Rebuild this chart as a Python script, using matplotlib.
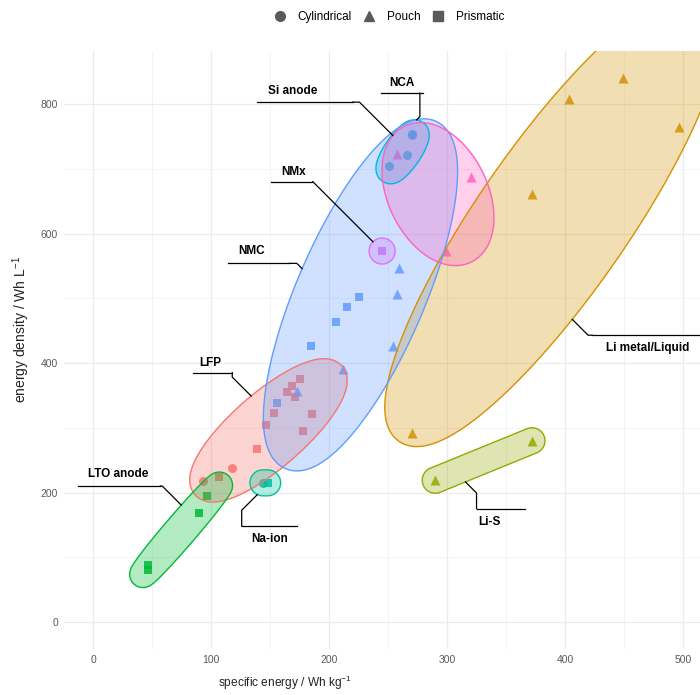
import numpy as np
import matplotlib
matplotlib.use('Agg')
import matplotlib.pyplot as plt
from matplotlib.lines import Line2D
from matplotlib.patches import Polygon

plt.rcParams['font.family'] = ['Liberation Sans', 'DejaVu Sans']
plt.rcParams['mathtext.fontset'] = 'custom'
plt.rcParams['mathtext.rm'] = 'Liberation Sans'
plt.rcParams['mathtext.it'] = 'Liberation Sans:italic'

# chemistry groups (ggplot hue order) and colours
groups = ['LFP', 'Li metal/Liquid', 'Li-S', 'LTO anode', 'Na-ion',
          'NCA', 'NMC', 'NMx', 'Si anode']
colors = ['#F8766D', '#D39200', '#93AA00', '#00BA38', '#00C19F',
          '#00B9E3', '#619CFF', '#DB72FB', '#FF61C3']

# specific energy (Wh/kg), energy density (Wh/L), cell format
lfp_x = [93, 118, 107, 139, 147, 153, 164, 169, 175, 171, 186, 178]
lfp_y = [218, 238, 224, 267, 304, 323, 355, 364, 375, 348, 321, 295]
lfp_s = ['Cylindrical'] * 2 + ['Prismatic'] * 10

limetal_x = [449, 403, 497, 372, 270]
limetal_y = [840, 808, 765, 661, 292]
limetal_s = ['Pouch'] * 5

lis_x = [290, 372]
lis_y = [219, 280]
lis_s = ['Pouch'] * 2

lto_x = [47, 47, 90, 97]
lto_y = [88, 80, 168, 195]
lto_s = ['Prismatic'] * 4

naion_x = [144, 148]
naion_y = [215, 215]
naion_s = ['Cylindrical', 'Prismatic']

nca_x = [270, 266, 251]
nca_y = [754, 721, 704]
nca_s = ['Cylindrical'] * 3

# last NMC cell sits under the NCA cluster (implied by its ellipse)
nmc_x = [156, 185, 206, 215, 225, 173, 212, 254, 258, 259, 270]
nmc_y = [338, 426, 463, 487, 502, 357, 391, 426, 507, 547, 752]
nmc_s = ['Prismatic'] * 5 + ['Pouch'] * 5 + ['Cylindrical']

nmx_x = [245]
nmx_y = [573]
nmx_s = ['Prismatic']

si_x = [258, 320, 299]
si_y = [723, 687, 573]
si_s = ['Pouch'] * 3

xs = [lfp_x, limetal_x, lis_x, lto_x, naion_x, nca_x, nmc_x, nmx_x, si_x]
ys = [lfp_y, limetal_y, lis_y, lto_y, naion_y, nca_y, nmc_y, nmx_y, si_y]
ss = [lfp_s, limetal_s, lis_s, lto_s, naion_s, nca_s, nmc_s, nmx_s, si_s]

markers = {'Cylindrical': 'o', 'Pouch': '^', 'Prismatic': 's'}
msize = {'Cylindrical': 42, 'Pouch': 52, 'Prismatic': 40}
pz = {'Cylindrical': 1.9, 'Pouch': 2, 'Prismatic': 2}

# label text position, underline (x0, x1, y) and connector start, data units
lab_text = {
    'LTO anode': (21, 229), 'LFP': (99, 400), 'Na-ion': (150, 128),
    'Si anode': (169, 820), 'NCA': (262, 832), 'NMx': (170, 695),
    'NMC': (134, 573), 'Li metal/Liquid': (470, 423), 'Li-S': (336, 154),
}
lab_line = {
    'LTO anode': (-13, 57, 210), 'LFP': (85, 118, 385), 'Na-ion': (126, 173, 148),
    'Si anode': (139, 220, 803), 'NCA': (244, 280, 817), 'NMx': (151, 186, 680),
    'NMC': (114, 167, 554), 'Li metal/Liquid': (423, 530, 443), 'Li-S': (325, 366, 175),
}
lab_start = {
    'LTO anode': (57, 210), 'LFP': (118, 385), 'Na-ion': (126, 148),
    'Si anode': (220, 803), 'NCA': (277, 817), 'NMx': (186, 680),
    'NMC': (167, 554), 'Li metal/Liquid': (423, 443), 'Li-S': (325, 175),
}


def mvee(P, tol=1e-5):
    n, d = P.shape
    Q = np.vstack([P.T, np.ones(n)])
    u = np.ones(n) / n
    err = 1.0
    while err > tol:
        X = Q @ np.diag(u) @ Q.T
        M = np.einsum('ij,jk,ki->i', Q.T, np.linalg.inv(X), Q)
        j = np.argmax(M)
        step = (M[j] - d - 1) / ((d + 1) * (M[j] - 1))
        nu = (1 - step) * u
        nu[j] += step
        err = np.linalg.norm(nu - u)
        u = nu
    c = P.T @ u
    A = np.linalg.inv(P.T @ np.diag(u) @ P - np.outer(c, c)) / d
    return c, A


def mark_ellipse(P, expand=13, n=1500):
    # minimum enclosing ellipse in pixel space, offset outward by expand px
    if len(P) == 1:
        c, a, b, V = P[0], 1e-6, 1e-6, np.eye(2)
    elif len(P) == 2:
        c = P.mean(axis=0)
        v = P[1] - P[0]
        a = np.linalg.norm(v) / 2
        u = v / np.linalg.norm(v)
        V = np.array([[u[0], -u[1]], [u[1], u[0]]])
        b = 1e-6
    else:
        c, A = mvee(P)
        lam, V = np.linalg.eigh(A)
        a, b = 1 / np.sqrt(lam)
    phi = np.linspace(0, 2 * np.pi, n)
    den = np.sqrt(a**2 * np.cos(phi)**2 + b**2 * np.sin(phi)**2)
    lx = a**2 * np.cos(phi) / den + expand * np.cos(phi)
    ly = b**2 * np.sin(phi) / den + expand * np.sin(phi)
    pts = c + (V @ np.vstack([lx, ly])).T
    # resample evenly along the outline (flat sides have few vertices)
    seg = np.r_[0, np.cumsum(np.linalg.norm(np.diff(pts, axis=0), axis=1))]
    t = np.linspace(0, seg[-1], int(seg[-1]) * 2 + 2)
    return np.c_[np.interp(t, seg, pts[:, 0]), np.interp(t, seg, pts[:, 1])]


fig = plt.figure(figsize=(7, 6.95), dpi=100)
ax = fig.add_axes([63.5 / 700, 45.8 / 695, 645.5 / 700, 598.2 / 695])
ax.set_xlim(-25, 522)
ax.set_ylim(-42, 882)

for s in ax.spines.values():
    s.set_visible(False)
ax.set_xticks([0, 100, 200, 300, 400, 500])
ax.set_xticks([50, 150, 250, 350, 450], minor=True)
ax.set_yticks([0, 200, 400, 600, 800])
ax.set_yticks([100, 300, 500, 700], minor=True)
ax.grid(which='major', color='#ebebeb', lw=0.9)
ax.grid(which='minor', color='#f3f3f3', lw=0.6)
ax.set_axisbelow(True)
ax.tick_params(which='both', length=0, labelsize=7.5, labelcolor='#5a5a5a', pad=4)

# points
for g, col, x, y, s in zip(groups, colors, xs, ys, ss):
    x = np.array(x); y = np.array(y); s = np.array(s)
    for shp in ['Cylindrical', 'Pouch', 'Prismatic']:
        m = s == shp
        if m.any():
            z = 1.8 if g == 'NMC' and shp == 'Cylindrical' else pz[shp]
            ax.scatter(x[m], y[m], marker=markers[shp], s=msize[shp], color=col,
                       alpha=0.85, linewidths=0, zorder=z)

# ellipses and labels
inv = ax.transData.inverted()
for g, col, x, y in zip(groups, colors, xs, ys):
    P = ax.transData.transform(np.c_[x, y])
    poly_px = mark_ellipse(P)
    poly = inv.transform(poly_px)
    ax.add_patch(Polygon(poly, closed=True, facecolor=col, alpha=0.3,
                         edgecolor='none', zorder=3))
    ax.add_patch(Polygon(poly, closed=True, facecolor='none', edgecolor=col,
                         lw=1.0, zorder=3.1))

    tx, ty = lab_text[g]
    ax.text(tx, ty, g, ha='center', va='center', fontsize=8.5,
            fontweight='bold', color='black', zorder=5)
    x0, x1, yl = lab_line[g]
    ax.plot([x0, x1], [yl, yl], color='black', lw=0.9, zorder=5, clip_on=False)
    s_px = ax.transData.transform(lab_start[g])
    k = np.argmin(np.sum((poly_px - s_px) ** 2, axis=1))
    e_px = poly_px[k]
    dx, dy = e_px - s_px
    if abs(dx) > abs(dy):
        mid = np.array([s_px[0] + np.sign(dx) * (abs(dx) - abs(dy)), s_px[1]])
    else:
        mid = np.array([s_px[0], s_px[1] + np.sign(dy) * (abs(dy) - abs(dx))])
    path = inv.transform(np.vstack([s_px, mid, e_px]))
    ax.plot(path[:, 0], path[:, 1], color='black', lw=0.9, zorder=5, clip_on=False)

fig.text(285 / 700, 1 - 683 / 695, 'specific energy / Wh kg$^{-1}$',
         ha='center', va='center', fontsize=8.6, color='#222222')
fig.text(21 / 700, 1 - 330 / 695, 'energy density / Wh L$^{-1}$',
         ha='center', va='center', rotation=90, fontsize=10, color='#222222')

handles = [Line2D([], [], ls='', marker=markers[k], color='#5a5a5a', markersize=7)
           for k in ['Cylindrical', 'Pouch', 'Prismatic']]
fig.legend(handles, ['Cylindrical', 'Pouch', 'Prismatic'], loc='center',
           bbox_to_anchor=(389 / 700, 1 - 17 / 695), ncol=3, frameon=False,
           fontsize=8.5, handlelength=1.0, handletextpad=1.0, columnspacing=1.0)

fig.savefig('out.png', dpi=100)
